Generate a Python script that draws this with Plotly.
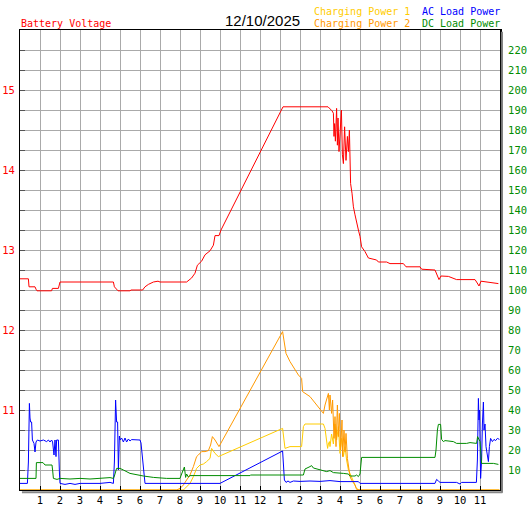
import plotly.graph_objects as go
from plotly.graph_objects import Figure

# time of day in hours (0 = midnight)
voltage_hours = [
    0, 0.42, 0.45, 0.75, 0.8, 0.85, 1.58, 1.62, 1.92, 2.0, 4.67, 4.72, 4.9, 5.5,
    5.55, 6.13, 6.25, 6.42, 6.67, 6.9, 7.0, 8.0, 8.33, 8.58, 8.75, 8.87, 9.08,
    9.25, 9.5, 9.67, 9.75, 9.95, 10.05, 13.15, 15.4, 15.6, 15.67, 15.7, 15.73,
    15.77, 15.83, 15.87, 15.9, 15.95, 16.0, 16.07, 16.12, 16.17, 16.23, 16.3,
    16.37, 16.42, 16.47, 16.5, 16.53, 16.6, 16.67, 16.75, 16.83, 16.92, 17.0,
    17.08, 17.25, 17.42, 17.83, 17.92, 18.33, 18.5, 19.17, 19.3, 20.0, 20.08,
    20.75, 20.83, 20.95, 21.05, 21.42, 21.83, 22.75, 22.83, 22.95, 23.05, 23.33,
    23.67, 23.92,
]
battery_voltage = [
    12.64, 12.64, 12.54, 12.54, 12.51, 12.49, 12.49, 12.52, 12.52, 12.6, 12.6,
    12.54, 12.49, 12.49, 12.5, 12.5, 12.54, 12.57, 12.6, 12.61, 12.6, 12.6, 12.6,
    12.65, 12.71, 12.81, 12.86, 12.94, 12.99, 13.06, 13.18, 13.18, 13.25, 14.79,
    14.79, 14.74, 14.71, 14.42, 14.58, 14.36, 14.77, 14.31, 14.65, 14.23, 14.4,
    14.75, 14.19, 14.08, 14.54, 14.12, 14.42, 14.23, 14.5, 14.25, 13.83, 13.71,
    13.54, 13.44, 13.33, 13.25, 13.17, 13.04, 12.98, 12.9, 12.875, 12.85, 12.85,
    12.83, 12.83, 12.79, 12.79, 12.76, 12.75, 12.71, 12.63, 12.675, 12.67, 12.63,
    12.63, 12.6, 12.55, 12.61, 12.6, 12.59, 12.58,
]

charging1_hours = [
    0, 8.17, 8.25, 8.5, 8.67, 8.83, 9.0, 9.17, 9.33, 9.5, 9.58, 9.75, 9.92, 13.13,
    13.25, 13.5, 14.08, 14.17, 14.25, 15.17, 15.25, 15.33, 15.38, 15.42, 15.47,
    15.5, 15.58, 15.67, 15.75, 15.83, 15.92, 16.0, 16.08, 16.17, 16.25, 16.33,
    16.42, 16.5, 16.67, 16.8, 16.92, 23.97,
]
charging_power_1 = [
    0, 0, 0.8, 3.3, 6.7, 10.8, 12.5, 13, 14.2, 15.8, 20.8, 18.3, 16.7, 30.8,
    20.8, 21.7, 21.7, 31.7, 33, 33, 30.8, 25, 20.8, 23, 24.2, 21.7, 28, 23, 33,
    25, 31.7, 18.3, 25.8, 16.7, 21.7, 15, 10, 8.3, 4.2, 1.3, 0, 0,
]

charging2_hours = [
    0, 7.83, 8.0, 8.17, 8.33, 8.5, 8.67, 8.83, 8.92, 9.08, 9.25, 9.42, 9.53, 9.62,
    9.75, 9.95, 13.13, 13.3, 13.5, 13.75, 13.92, 14.08, 14.13, 14.5, 14.83, 15.08,
    15.17, 15.25, 15.33, 15.42, 15.47, 15.5, 15.58, 15.63, 15.7, 15.75, 15.8,
    15.87, 15.92, 15.97, 16.03, 16.1, 16.13, 16.2, 16.25, 16.3, 16.37, 16.42,
    16.5, 16.58, 16.75, 16.83, 17.0, 23.97,
]
charging_power_2 = [
    0, 0, 0.8, 2.5, 5, 7.5, 11.7, 16.7, 17.5, 19.2, 19.2, 19.7, 22.5, 26.7, 25,
    21.7, 79.2, 68.3, 64.2, 60, 57.5, 55.8, 49.2, 46.7, 42.5, 39.2, 38.3, 42.5,
    45, 48.3, 40, 47.5, 38.3, 45, 25.8, 36.7, 21.7, 42.5, 26.7, 38.3, 20, 35,
    16.7, 30, 19.2, 28.3, 15.8, 12.5, 6.7, 5, 2.5, 0.3, 0, 0,
]

ac_hours = [
    0, 0.37, 0.42, 0.47, 0.5, 0.53, 0.58, 0.62, 0.7, 0.75, 0.8, 0.87, 1.0, 1.17,
    1.33, 1.42, 1.5, 1.58, 1.63, 1.7, 1.75, 1.8, 1.83, 1.92, 1.97, 2.0, 2.25, 2.5,
    2.75, 3.0, 4.0, 4.5, 4.67, 4.72, 4.78, 4.83, 4.88, 4.92, 4.97, 5.0, 5.08,
    5.17, 5.25, 5.33, 5.42, 5.5, 5.58, 6.0, 6.05, 6.17, 6.25, 10.0, 13.13, 13.22,
    13.3, 13.4, 13.5, 13.67, 14.0, 14.5, 15.0, 15.5, 16.0, 16.92, 17.0, 20.75,
    20.83, 20.92, 21.0, 21.83, 22.0, 22.08, 22.82, 22.87, 22.92, 22.95, 22.98,
    23.03, 23.08, 23.12, 23.17, 23.2, 23.25, 23.3, 23.37, 23.42, 23.47, 23.53,
    23.62, 23.7, 23.78, 23.87, 23.97,
]
ac_load_power = [
    3.3, 3.3, 14, 43.3, 36, 34, 34, 25, 23.3, 19, 24, 25, 24.5, 25, 24.2, 25, 24,
    25, 24, 17.5, 25, 16.7, 25, 25, 9, 3.3, 2.8, 3.3, 2.8, 3.3, 3.3, 3.8, 3.3, 14,
    45, 34, 34, 10, 27, 25, 26, 24, 26, 24, 25.5, 24.5, 25.2, 25, 23.5, 13, 3.3,
    3.3, 19.5, 5, 3.8, 4.5, 3.8, 4.5, 4.3, 4.5, 4.3, 4.7, 4.2, 4.2, 3.3, 3.3, 5.3,
    4.5, 3.8, 3.8, 3.0, 3.8, 3.8, 15, 45.8, 35, 40, 5.8, 15, 33, 44, 30, 33, 21.7,
    17.5, 14.2, 21.7, 25.8, 24.2, 25.3, 24.7, 25.8, 25.3,
]

dc_hours = [
    0, 0.8, 0.82, 1.15, 1.25, 1.6, 1.63, 1.67, 1.85, 2.0, 2.5, 3.0, 3.5, 4.0, 4.5,
    4.67, 4.72, 4.83, 5.0, 5.17, 5.5, 6.17, 6.67, 7.33, 8.0, 8.08, 8.22, 8.28,
    8.33, 8.42, 8.5, 11.5, 11.52, 14.17, 14.25, 14.5, 14.58, 14.67, 15.0, 15.33,
    15.5, 15.67, 16.17, 16.42, 16.5, 16.75, 16.83, 16.92, 17.0, 17.05, 17.08,
    20.75, 20.8, 20.87, 20.92, 21.03, 21.05, 21.08, 21.17, 21.25, 21.67, 21.83,
    22.33, 22.5, 22.83, 22.88, 23.0, 23.08, 23.67, 23.83, 23.92,
]
dc_load_power = [
    5.8, 5.8, 13.7, 13.7, 12.5, 12.5, 10, 5.8, 5.3, 5.8, 5.5, 5.8, 5.5, 5.8, 6.2,
    5.8, 7, 10.8, 10.8, 10, 8.3, 7, 6.3, 5.8, 5.8, 8, 11.5, 6.3, 8, 6.5, 7.2, 7.2,
    7.5, 7.5, 10.5, 11.7, 12.2, 11, 10, 9.2, 9.7, 8.7, 8.3, 8, 7, 7, 7.5, 6.7, 8,
    12, 16.3, 16.3, 20, 30, 32.8, 32.8, 30, 25.3, 24.2, 24.7, 24.2, 23.3, 23.3,
    23.7, 23.3, 26.7, 24.2, 13.3, 13.3, 12.8, 12.8,
]

hour_ticks = list(range(1, 24))
hour_labels = [str(h if h <= 12 else h - 12) for h in hour_ticks]
volt_ticks = [11, 12, 13, 14, 15]
watt_ticks = list(range(10, 230, 10))

SMALL_FONT = "DejaVu Sans Mono"


def add_power_line(fig: Figure, x, y, name: str, color: str) -> None:
    fig.add_trace(
        go.Scatter(
            x=x, y=y, mode="lines", name=name, yaxis="y2",
            line=dict(color=color, width=1),
        )
    )


def header_text(fig: Figure, text: str, x: float, y: float, color: str,
                size: float = 10, family: str = SMALL_FONT, anchor: str = "left") -> None:
    fig.add_annotation(
        text=text, x=x, y=y, xref="paper", yref="paper",
        xanchor=anchor, yanchor="middle", showarrow=False,
        font=dict(family=family, size=size, color=color),
    )


fig = Figure()
add_power_line(fig, charging1_hours, charging_power_1, "Charging Power 1", "#FFCC00")
add_power_line(fig, charging2_hours, charging_power_2, "Charging Power 2", "#FF9900")
add_power_line(fig, ac_hours, ac_load_power, "AC Load Power", "#0000FF")
add_power_line(fig, dc_hours, dc_load_power, "DC Load Power", "#008C00")
fig.add_trace(
    go.Scatter(
        x=voltage_hours, y=battery_voltage, mode="lines", name="Battery Voltage",
        line=dict(color="#FF0000", width=1),
    )
)

fig.update_layout(
    width=527,
    height=510,
    template="none",
    showlegend=False,
    paper_bgcolor="white",
    plot_bgcolor="white",
    margin=dict(l=20, r=27, t=30, b=20),
    font=dict(family=SMALL_FONT, size=10, color="black"),
    xaxis=dict(
        range=[0, 24],
        tickmode="array",
        tickvals=hour_ticks,
        ticktext=hour_labels,
        ticks="inside",
        ticklen=4,
        tickcolor="black",
        showgrid=True,
        gridcolor="#AAAAAA",
        gridwidth=1,
        zeroline=False,
        showline=True,
        linecolor="black",
        linewidth=1,
        mirror=True,
        automargin=False,
        tickfont=dict(family=SMALL_FONT, size=10.5, color="black"),
    ),
    yaxis=dict(
        range=[10, 15.75],
        tickmode="array",
        tickvals=volt_ticks,
        ticks="inside",
        ticklen=5,
        tickcolor="#555555",
        minor=dict(tickmode="linear", tick0=10, dtick=0.25, ticks="inside",
                   ticklen=5, tickcolor="#555555", showgrid=False),
        showgrid=False,
        zeroline=False,
        showline=True,
        linecolor="black",
        linewidth=1,
        automargin=False,
        ticklabelstandoff=2,
        tickfont=dict(family=SMALL_FONT, size=10.5, color="#FF0000"),
    ),
    yaxis2=dict(
        range=[0, 230],
        overlaying="y",
        side="right",
        tickmode="array",
        tickvals=watt_ticks,
        ticks="",
        showgrid=True,
        gridcolor="#AAAAAA",
        gridwidth=1,
        zeroline=False,
        showline=True,
        linecolor="black",
        linewidth=2,
        automargin=False,
        ticklabelstandoff=4,
        tickfont=dict(family=SMALL_FONT, size=10.5, color="#008C00"),
    ),
)

# drop shadow of the chart frame
fig.add_shape(type="line", xref="paper", yref="paper", x0=1.004, x1=1.004,
              y0=-0.006, y1=0.996, line=dict(color="#777777", width=2))
fig.add_shape(type="line", xref="paper", yref="paper", x0=0.004, x1=1.005,
              y0=-0.005, y1=-0.005, line=dict(color="#888888", width=2))

header_text(fig, "Battery Voltage", -0.002, 1.0141, "#FF0000")
header_text(fig, "12/10/2025", 0.506, 1.0217, "black", size=15,
            family="Liberation Sans", anchor="center")
header_text(fig, "Charging Power 1", 0.608, 1.0398, "#FFCC00")
header_text(fig, "Charging Power 2", 0.608, 1.0141, "#FF9900")
header_text(fig, "AC Load Power", 0.833, 1.0398, "#0000FF")
header_text(fig, "DC Load Power", 0.833, 1.0141, "#008C00")

# the page is photographed at exactly the figure size, so drop the body margin
fig.write_html(
    "out.html",
    config={"displayModeBar": False},
    post_script="document.body.style.margin='0';",
)
